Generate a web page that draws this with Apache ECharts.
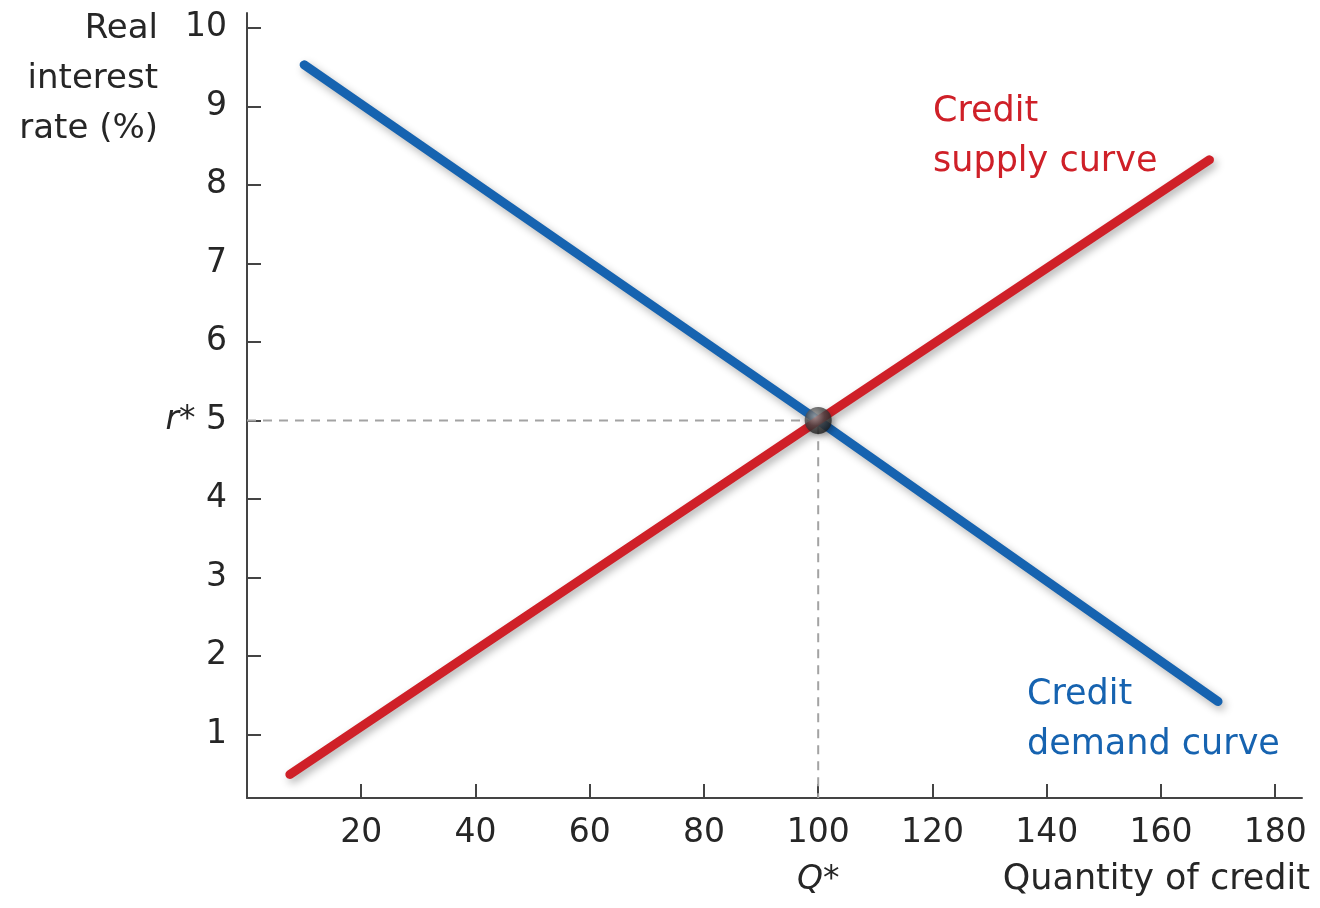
<!DOCTYPE html>
<html>
<head>
<meta charset="utf-8">
<script src="https://cdn.jsdelivr.net/npm/echarts@6/dist/echarts.min.js"></script>
<style>
  html, body { margin: 0; padding: 0; background: #fff; }
  #chart { width: 1320px; height: 908px; }
</style>
</head>
<body>
<div id="chart"></div>
<script>
// ---- data ----
const xTicks = [20, 40, 60, 80, 100, 120, 140, 160, 180];
const yTicks = [1, 2, 3, 4, 5, 6, 7, 8, 9, 10];
const supplyCurve = [[7.5, 0.49], [100, 5], [168.5, 8.32]];
const demandCurve = [[10, 9.53], [100, 5], [170, 1.42]];
const equilibrium = [[100, 5]];
const rStar = 5;
const qStar = 100;
const xRange = [0, 184.7];
const yRange = [0.19, 10.19];

const FONT = 'DejaVu Sans';
const TXT = '#262626';
const RED = '#cf2028';
const BLUE = '#1663b0';

const chart = echarts.init(document.getElementById('chart'));
chart.setOption({
  animation: false,
  backgroundColor: '#ffffff',
  grid: { left: 247, right: 18, top: 13, bottom: 110, containLabel: false, outerBoundsMode: 'none' },
  xAxis: {
    type: 'value',
    min: xRange[0], max: xRange[1],
    axisLine: { show: true, lineStyle: { color: '#444', width: 2 } },
    axisTick: { show: true, inside: true, length: 14, customValues: xTicks, lineStyle: { color: '#444', width: 2 } },
    axisLabel: {
      customValues: xTicks,
      margin: 12,
      fontFamily: FONT, fontSize: 33, color: TXT,
      lineHeight: 47,
      formatter: v => v === qStar ? v + '\n{it|Q*}' : String(v),
      rich: { it: { fontFamily: FONT, fontSize: 33, fontStyle: 'italic', color: TXT, lineHeight: 47 } }
    },
    splitLine: { show: false }
  },
  yAxis: {
    type: 'value',
    min: yRange[0], max: yRange[1],
    axisLine: { show: true, lineStyle: { color: '#444', width: 2 } },
    axisTick: { show: true, inside: true, length: 14, customValues: yTicks, lineStyle: { color: '#444', width: 2 } },
    axisLabel: {
      customValues: yTicks,
      margin: 20,
      fontFamily: FONT, fontSize: 33, color: TXT,
      formatter: v => v === rStar ? '{it|r*} ' + v : String(v),
      rich: { it: { fontFamily: FONT, fontSize: 33, fontStyle: 'italic', color: TXT } }
    },
    splitLine: { show: false }
  },
  series: [
    {
      name: 'guides',
      type: 'line',
      data: [[xRange[0], rStar], [qStar, rStar], [qStar, yRange[0]]],
      symbol: 'none',
      silent: true,
      lineStyle: { color: '#a3a3a3', width: 2, type: [9, 7] },
      z: 1
    },
    {
      name: 'Credit demand curve',
      type: 'line',
      data: demandCurve,
      symbol: 'none',
      lineStyle: {
        color: BLUE, width: 9, cap: 'round',
        shadowColor: 'rgba(0,0,0,0.3)', shadowBlur: 8, shadowOffsetX: 3, shadowOffsetY: 4
      },
      z: 2
    },
    {
      name: 'Credit supply curve',
      type: 'line',
      data: supplyCurve,
      symbol: 'none',
      lineStyle: {
        color: RED, width: 9, cap: 'round',
        shadowColor: 'rgba(0,0,0,0.3)', shadowBlur: 8, shadowOffsetX: 3, shadowOffsetY: 4
      },
      z: 3
    },
    {
      name: 'Equilibrium',
      type: 'scatter',
      data: equilibrium,
      symbolSize: 27,
      itemStyle: {
        color: {
          type: 'radial', x: 0.38, y: 0.35, r: 0.7,
          colorStops: [
            { offset: 0, color: '#a8a8a8' },
            { offset: 0.5, color: '#4a4a4a' },
            { offset: 1, color: '#1a1a1a' }
          ]
        },
        shadowColor: 'rgba(0,0,0,0.35)', shadowBlur: 6, shadowOffsetX: 2, shadowOffsetY: 3
      },
      z: 5
    }
  ],
  graphic: [
    {
      type: 'text', x: 158, y: 4,
      style: { text: 'Real\ninterest\nrate (%)', fill: TXT, font: '34px "DejaVu Sans"', lineHeight: 50, align: 'right', verticalAlign: 'top' }
    },
    {
      type: 'text', x: 1310, y: 862,
      style: { text: 'Quantity of credit', fill: TXT, font: '35px "DejaVu Sans"', align: 'right', verticalAlign: 'top' }
    },
    {
      type: 'text', x: 933, y: 87,
      style: { text: 'Credit\nsupply curve', fill: RED, font: '35px "DejaVu Sans"', lineHeight: 50, verticalAlign: 'top' }
    },
    {
      type: 'text', x: 1027, y: 670,
      style: { text: 'Credit\ndemand curve', fill: BLUE, font: '35px "DejaVu Sans"', lineHeight: 50, verticalAlign: 'top' }
    }
  ]
});
</script>
</body>
</html>
